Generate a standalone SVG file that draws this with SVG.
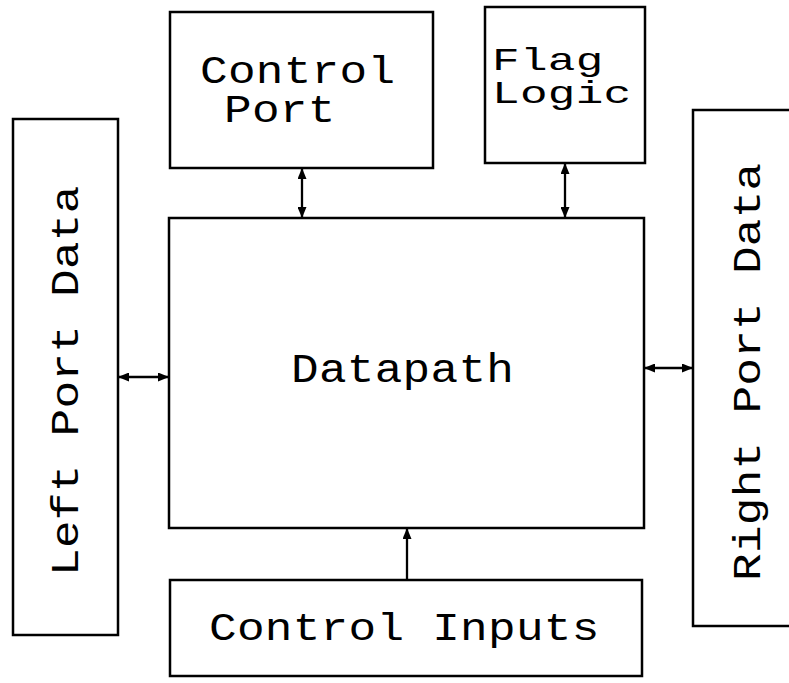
<svg xmlns="http://www.w3.org/2000/svg" width="789" height="683" viewBox="0 0 789 683">
<style>
.box{fill:none;stroke:#000;stroke-width:2.5}
.lbl{font-family:"Liberation Mono","DejaVu Sans Mono",monospace;font-size:46px;letter-spacing:0.3px;fill:#000}
.con{stroke:#000;stroke-width:2.3;fill:none}
</style>
<defs>
<marker id="ah" viewBox="0 0 11 9" refX="11" refY="4.5" markerWidth="11" markerHeight="9" markerUnits="userSpaceOnUse" orient="auto-start-reverse">
<path d="M0,0 L11,4.5 L0,9 Z" fill="#000"/>
</marker>
</defs>
<rect x="0" y="0" width="789" height="683" fill="#fff"/>
<g id="control-port">
<rect class="box" x="170" y="12" width="263" height="156"/>
<text class="lbl" transform="translate(200,83) scale(1,0.83)">Control</text>
<text class="lbl" transform="translate(224,122) scale(1,0.83)">Port</text>
</g>
<g id="flag-logic">
<rect class="box" x="485" y="7" width="160" height="156"/>
<text class="lbl" transform="translate(492,70) scale(1,0.68)">Flag</text>
<text class="lbl" transform="translate(492,103) scale(1,0.68)">Logic</text>
</g>
<g id="left-port-data">
<rect class="box" x="13" y="119" width="105" height="516"/>
<text class="lbl" transform="translate(78,576) rotate(-90) scale(1,0.86)">Left Port Data</text>
</g>
<g id="datapath">
<rect class="box" x="169" y="218" width="475" height="310"/>
<text class="lbl" transform="translate(291,382) scale(1,0.9)">Datapath</text>
</g>
<g id="right-port-data">
<rect class="box" x="693" y="110" width="110" height="516"/>
<text class="lbl" transform="translate(760,581) rotate(-90) scale(1,0.86)">Right Port Data</text>
</g>
<g id="control-inputs">
<rect class="box" x="170" y="580" width="472" height="96"/>
<text class="lbl" transform="translate(209,640) scale(1,0.86)">Control Inputs</text>
</g>
<g id="connectors">
<line class="con" x1="302" y1="168" x2="302" y2="218" marker-start="url(#ah)" marker-end="url(#ah)"/>
<line class="con" x1="565" y1="163" x2="565" y2="218" marker-start="url(#ah)" marker-end="url(#ah)"/>
<line class="con" x1="118" y1="377" x2="169" y2="377" marker-start="url(#ah)" marker-end="url(#ah)"/>
<line class="con" x1="644" y1="368" x2="693" y2="368" marker-start="url(#ah)" marker-end="url(#ah)"/>
<line class="con" x1="407" y1="580" x2="407" y2="528" marker-end="url(#ah)"/>
</g>
</svg>
